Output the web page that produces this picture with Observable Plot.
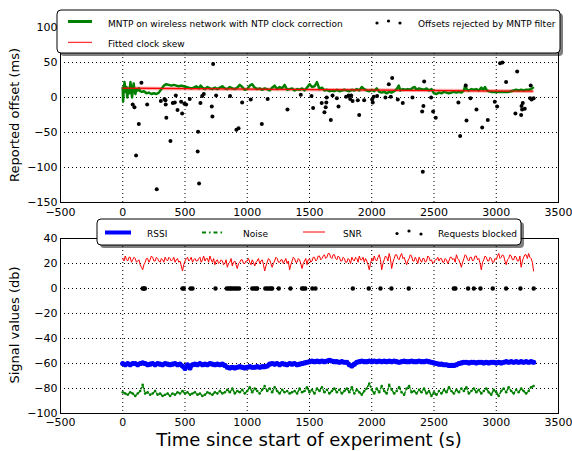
<!DOCTYPE html>
<html>
<head>
<meta charset="utf-8">
<script src="https://cdn.jsdelivr.net/npm/d3@7"></script>
<script src="https://cdn.jsdelivr.net/npm/@observablehq/plot@0.6"></script>
<style>
  html, body { margin: 0; padding: 0; background: white; }
  #wrap { position: relative; width: 572px; height: 451px; overflow: hidden; font-family: "DejaVu Sans", sans-serif; }
  #top, #bottom { position: absolute; left: 0; }
  #top { top: 0; }
  #bottom { top: 220px; }
  #overlay { position: absolute; left: 0; top: 0; }
</style>
</head>
<body>
<div id="wrap">
  <div id="top"></div>
  <div id="bottom"></div>
  <svg id="overlay" width="572" height="451"></svg>
</div>
<script>
// ---------- Data ----------
const xTicks = [-500, 0, 500, 1000, 1500, 2000, 2500, 3000, 3500];
const yTicksTop = [-150, -100, -50, 0, 50, 100];
const yTicksBottom = [-100, -80, -60, -40, -20, 0, 20, 40];

// MNTP on wireless network with NTP clock correction (time s, offset ms)
const greenT = [0,3,8,14,22,30,36,44,52,62,68,75,82,88,95,102,110,120,130,140,155,170,190,210,230,250,270,290,310,330,350,370,390,410,430,450,470,490,510,530,550,570,590,610,625,640,660,680,700,720,740,760,780,800,820,840,860,880,900,920,940,960,980,1000,1020,1040,1060,1080,1100,1120,1140,1160,1180,1200,1220,1240,1260,1280,1300,1320,1340,1360,1380,1400,1420,1440,1460,1480,1500,1520,1540,1560,1580,1600,1620,1640,1660,1680,1700,1720,1740,1760,1780,1800,1820,1840,1860,1880,1900,1920,1940,1960,1980,2000,2020,2040,2060,2080,2100,2120,2140,2160,2180,2200,2217,2230,2250,2270,2290,2310,2330,2345,2360,2380,2400,2420,2440,2460,2480,2500,2520,2540,2560,2580,2600,2620,2640,2660,2680,2700,2720,2740,2752,2765,2780,2800,2820,2840,2860,2880,2895,2910,2925,2940,2960,2980,3000,3020,3040,3060,3080,3100,3120,3140,3160,3180,3200,3220,3240,3260,3280,3295];
const greenV = [14,-6,10,22,8,15,0,12,6,22,10,0,14,20,8,5,12,10,13,9,8,9,6,7,5,6,5,7,12,17,19,18,17,18,17,16,17,16,15,14,13,14,16,13,17,14,12,15,13,12,14,12,14,16,13,12,15,13,12,14,18,15,11,12,17,19,14,12,13,11,13,12,10,14,17,12,15,13,18,11,12,13,10,12,11,13,10,14,19,15,16,22,12,14,10,11,9,10,9,11,9,10,11,10,9,11,10,12,10,15,12,10,9,11,9,13,8,7,8,6,8,7,9,12,17,10,12,11,12,11,14,15,11,13,12,11,13,10,12,6,5,7,6,8,7,6,7,8,7,8,7,10,18,11,10,12,11,12,10,14,11,15,10,9,8,8,8,8,8,8,8,8,9,10,11,10,11,10,11,11,12,14];

// Fitted clock skew (end points of the fitted line)
const skewT = [0, 3290];
const skewV = [13.3, 9.0];

// Offsets rejected by MNTP filter
const rejT = [80,94,107,129,150,196,273,306,335,343,345,350,383,402,418,426,440,469,477,495,509,538,602,605,613,624,638,651,715,720,726,750,862,913,930,959,1028,1117,1164,1323,1430,1516,1529,1598,1620,1630,1635,1638,1671,1685,1720,1733,1794,1815,1827,1835,1846,1888,1899,1939,2003,2008,2016,2043,2110,2137,2153,2164,2209,2249,2327,2405,2410,2415,2421,2477,2493,2514,2696,2710,2755,2761,2793,2841,2887,2932,2988,3007,3031,3050,3079,3154,3168,3200,3203,3208,3213,3229,3272,3277,3284,3300];
const rejV = [-10,-14,-83,-38,21,-10,-131,-5,-2,-4,-10,-29,-62,-8,-7,3,-18,-6,-23,-9,-10,-2,-77,-49,-123,-8,2,5,-13,-27,48,3,2,-46,-44,-7,-3,-38,-2,-17,4,2,-15,-8,-21,-14,-7,0,-32,3,-1,-13,1,3,-2,3,-5,-4,-25,-4,-3,-7,1,2,0,19,1,28,-3,-8,0,-20,-106,-12,23,0,-20,-29,-7,-55,17,-33,-1,-17,-43,-32,-6,-13,49,50,22,-23,37,-25,-12,-17,-8,-16,-1,17,-3,-1];

// SNR sampled every 10 s from t = 0 to 3300
const snrStep = 10;
const snrV = [24,22,26,23,22,25,25,21,23,25,24,21,22,23,19,17,15,19,21,24,
  24,21,23,26,25,22,22,25,24,22,21,24,23,21,25,23,22,25,24,22,
  23,25,21,23,24,21,22,18,14,19,22,24,25,22,23,25,21,23,24,22,
  22,24,25,21,23,26,22,24,24,21,26,23,21,24,19,22,23,20,21,23,
  22,19,20,23,17,20,21,24,18,21,22,19,16,20,21,23,23,20,20,22,
  22,24,21,19,23,21,18,21,22,24,20,22,23,19,14,18,21,24,23,20,
  17,20,22,25,24,21,21,23,23,20,22,24,20,22,15,19,22,25,24,21,
  21,24,23,20,16,20,22,24,19,23,24,21,22,25,25,22,23,26,26,23,
  24,26,27,24,25,28,28,25,24,27,27,24,23,26,25,22,22,25,24,21,
  21,24,23,20,25,23,22,25,24,21,26,23,23,25,21,24,22,19,15,20,
  24,22,26,23,22,25,27,23,15,20,23,26,25,22,28,24,16,21,24,27,
  27,24,23,26,28,24,25,22,19,22,24,27,26,22,22,25,23,20,25,23,
  21,24,24,21,22,26,25,22,23,20,21,23,23,25,22,24,24,21,21,24,
  23,20,22,25,25,23,24,21,27,24,23,20,17,21,24,27,26,23,22,25,
  25,22,23,26,26,23,24,20,15,21,23,26,25,22,22,25,24,21,21,24,
  23,26,28,24,25,27,26,22,19,23,24,27,26,23,23,26,25,22,22,26,
  17,22,25,27,27,24,28,25,24,21,14];

// RSSI and noise sampled every 20 s from t = 0 to 3300
const sampleStep = 20;
const rssiV = [-60,-61,-60,-61,-60,-60,-61,-60,-59.5,-60, -61,-60.5,-60,-61,-60,-60.5,-61,-60,-60.5,-61, -60.5,-60,-61,-60.5,-62,-64,-61,-63.5,-61,-60.5, -61,-60,-61,-60.5,-61,-60,-60.5,-61,-60.5,-61, -60.5,-61.5,-63,-63.5,-63,-63.5,-63,-62.5,-63,-63.5, -63,-62.5,-63,-63,-62.5,-63,-62.5,-62.5,-62,-60.5, -60,-60.5,-60,-61,-60,-60.5,-61,-60,-60.5,-60, -61,-60.5,-60,-59.5,-59,-58.5,-58,-58.5,-58,-58.5, -58,-58.5,-58,-57.5,-58,-58.5,-58.5,-59,-58.5,-59, -59,-61,-62,-60.5,-59,-58.5,-58,-58.5,-58.5,-58, -58.5,-58,-58.5,-58,-58.5,-58,-58.5,-58,-58.5,-58, -58.5,-59,-58.5,-58,-58.5,-58.5,-58,-58.5,-58.5,-58, -58.5,-58.5,-58,-58.5,-59,-59.5,-60,-60.5,-60.5,-61, -61,-61.5,-61.5,-61.5,-61,-60,-59.5,-59,-59,-59.5, -59,-59,-59.5,-59,-59,-59.5,-59,-59.5,-59,-59, -59.5,-59,-59.5,-59,-58.5,-59,-58.5,-59,-58.5,-59, -58.5,-59,-58.5,-59,-58.5,-59];
const noiseV = [-83,-84,-85,-83,-84,-86,-84,-82,-77,-84, -83,-85,-84,-82,-85,-84,-86,-85,-84,-86, -84,-85,-83,-84,-82,-84,-83,-85,-84,-83, -85,-84,-86,-85,-83,-84,-85,-83,-84,-82, -84,-83,-81,-83,-80,-84,-82,-83,-81,-84, -82,-79,-83,-80,-82,-84,-81,-78,-82,-80, -83,-79,-82,-84,-81,-83,-82,-84,-83,-82, -84,-80,-83,-82,-79,-83,-81,-84,-80,-82, -79,-83,-81,-84,-82,-80,-83,-81,-84,-82, -80,-83,-79,-84,-81,-83,-85,-82,-80,-76, -81,-84,-80,-83,-78,-82,-84,-77,-81,-84, -82,-79,-83,-85,-80,-78,-83,-82,-84,-81, -83,-80,-84,-82,-86,-83,-85,-82,-84,-81, -83,-79,-82,-84,-81,-83,-80,-82,-79,-84, -82,-80,-83,-81,-84,-82,-80,-83,-85,-81, -83,-86,-82,-80,-83,-79,-82,-84,-81,-83, -80,-82,-84,-82,-79,-78];

// Requests blocked (time s, drawn at 0)
const blockedT = [160,170,178,480,490,545,560,745,835,850,862,875,890,905,920,935,1040,1055,1070,1080,1145,1160,1175,1190,1200,1253,1347,1440,1452,1466,1523,1548,1848,1976,2070,2158,2297,2659,2672,2774,2820,2873,2972,3079,3194,3301];

// ---------- Build tables ----------
const green = greenT.map((t, i) => ({t, v: greenV[i]}));
const skew = skewT.map((t, i) => ({t, v: skewV[i]}));
const rej = rejT.map((t, i) => ({t, v: rejV[i]}));
const snr = snrV.map((v, i) => ({t: i * snrStep, v}));
const rssi = rssiV.map((v, i) => ({t: i * sampleStep, v}));
const noise = noiseV.map((v, i) => ({t: i * sampleStep, v}));
const blocked = blockedT.map(t => ({t, v: 0}));

const fmt = d3.format("d");
const commonStyle = {fontFamily: "DejaVu Sans", fontSize: "11px", color: "black", background: "white"};
const gridStyle = {stroke: "black", strokeOpacity: 1, strokeDasharray: "1,3"};

const topPlot = Plot.plot({
  width: 572, height: 220,
  marginLeft: 60, marginRight: 14, marginTop: 13, marginBottom: 18,
  style: commonStyle,
  x: {domain: [-500, 3500]},
  y: {domain: [-150, 120]},
  marks: [
    Plot.gridX(xTicks, gridStyle),
    Plot.gridY(yTicksTop, gridStyle),
    Plot.frame({stroke: "black"}),
    Plot.axisX(xTicks, {tickSize: 0, tickPadding: 6, tickFormat: fmt, label: null, fontSize: 11}),
    Plot.axisY(yTicksTop, {tickSize: 0, tickPadding: 3, tickFormat: fmt, label: null, fontSize: 11}),
    Plot.line(skew, {x: "t", y: "v", stroke: "#ff0000", strokeOpacity: 0.35, strokeWidth: 3.5}),
    Plot.line(green, {x: "t", y: "v", stroke: "#008000", strokeWidth: 2.5}),
    Plot.line(skew, {x: "t", y: "v", stroke: "#ff0000", strokeWidth: 1.2}),
    Plot.dot(rej, {x: "t", y: "v", r: 2, fill: "black", stroke: "none"})
  ]
});
document.getElementById("top").appendChild(topPlot);

const bottomPlot = Plot.plot({
  width: 572, height: 215,
  marginLeft: 60, marginRight: 14, marginTop: 18, marginBottom: 22,
  style: commonStyle,
  x: {domain: [-500, 3500]},
  y: {domain: [-100, 40]},
  marks: [
    Plot.gridX(xTicks, gridStyle),
    Plot.gridY(yTicksBottom, gridStyle),
    Plot.frame({stroke: "black"}),
    Plot.axisX(xTicks, {tickSize: 0, tickPadding: 4.5, tickFormat: fmt, label: null, fontSize: 11}),
    Plot.axisY(yTicksBottom, {tickSize: 0, tickPadding: 3, tickFormat: fmt, label: null, fontSize: 11}),
    Plot.line(snr, {x: "t", y: "v", stroke: "#ff0000", strokeWidth: 1}),
    Plot.line(rssi, {x: "t", y: "v", stroke: "#0000ff", strokeWidth: 4}),
    Plot.dot(rssi, {x: "t", y: "v", r: 2.6, fill: "#0000ff", stroke: "none"}),
    Plot.line(noise, {x: "t", y: "v", stroke: "#008000", strokeWidth: 1.5, strokeDasharray: "4,2,1.5,2"}),
    Plot.dot(noise, {x: "t", y: "v", r: 1.3, fill: "#008000", stroke: "none"}),
    Plot.dot(blocked, {x: "t", y: "v", r: 2.2, fill: "black", stroke: "none"})
  ]
});
document.getElementById("bottom").appendChild(bottomPlot);

// ---------- Legends and titles ----------
const ov = d3.select("#overlay").style("font-family", "DejaVu Sans");

function legendBox(x, y, w, h) {
  ov.append("rect").attr("x", x + 3).attr("y", y + 3).attr("width", w).attr("height", h)
    .attr("rx", 4).attr("fill", "rgba(0,0,0,0.5)");
  ov.append("rect").attr("x", x).attr("y", y).attr("width", w).attr("height", h)
    .attr("rx", 4).attr("fill", "white").attr("stroke", "black").attr("stroke-width", 1);
}
function label(x, y, txt, size) {
  ov.append("text").attr("x", x).attr("y", y).attr("dominant-baseline", "central")
    .attr("font-size", size).attr("fill", "black").text(txt);
}
function seg(x1, x2, y, color, w, dash) {
  const l = ov.append("line").attr("x1", x1).attr("x2", x2).attr("y1", y).attr("y2", y)
    .attr("stroke", color).attr("stroke-width", w);
  if (dash) l.attr("stroke-dasharray", dash);
}
function dots3(xs, ys, r) {
  xs.forEach((x, i) => ov.append("circle").attr("cx", x).attr("cy", ys[i]).attr("r", r).attr("fill", "black"));
}

// top legend
legendBox(57, 10, 503, 43);
seg(68, 92, 21.5, "#008000", 3);
label(108, 23.5, "MNTP on wireless network with NTP clock correction", 9);
dots3([377, 388.5, 400], [23, 21, 23], 1.6);
label(418, 23.5, "Offsets rejected by MNTP filter", 9);
seg(68, 92, 42.3, "#ff0000", 1);
label(108, 44.3, "Fitted clock skew", 9);

// bottom legend
legendBox(97, 219, 424, 26);
seg(105, 131, 232.5, "#0000ff", 4);
label(147, 234.3, "RSSI", 9);
seg(202, 222, 232.5, "#008000", 1.8, "4,3,1.5,3");
label(243, 234.3, "Noise", 9);
seg(303, 325, 232, "#ff0000", 1);
label(343, 234.3, "SNR", 9);
dots3([397, 409, 421], [233.5, 231, 234], 1.6);
label(438, 234.3, "Requests blocked", 9);

// axis titles
ov.append("text").attr("transform", "translate(14,115) rotate(-90)")
  .attr("text-anchor", "middle").attr("dominant-baseline", "central")
  .attr("font-size", 13).text("Reported offset (ms)");
ov.append("text").attr("transform", "translate(14,325) rotate(-90)")
  .attr("text-anchor", "middle").attr("dominant-baseline", "central")
  .attr("font-size", 13).text("Signal values (db)");
ov.append("text").attr("x", 309).attr("y", 446).attr("text-anchor", "middle")
  .attr("font-size", 18).text("Time since start of experiment (s)");
</script>
</body>
</html>
